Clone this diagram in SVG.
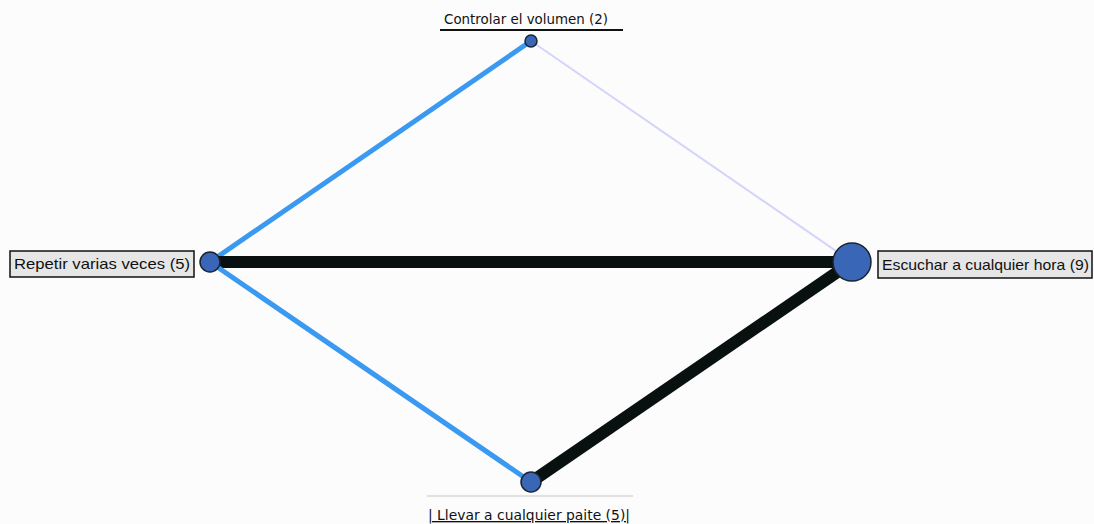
<svg xmlns="http://www.w3.org/2000/svg" width="1094" height="524" viewBox="0 0 1094 524">
<style>
.node{fill:#3a66b8;stroke:#1a2430;stroke-width:1.5}
.lbl{font-family:"DejaVu Sans","Liberation Sans",sans-serif;font-size:13.4px;fill:#111}
.blbl{font-family:"Liberation Sans",Arial,sans-serif;font-size:14.5px;fill:#111}
.box{fill:#e6e6e6;stroke:#111;stroke-width:1.5}
.blue{stroke:#3a99f0;stroke-width:5;fill:none}
.black{stroke:#081010;stroke-width:12;fill:none}
</style>
<rect width="1094" height="524" fill="#fcfcfc"/>
<g id="connectors">
<line class="blue" x1="531" y1="41" x2="210" y2="262"/>
<line x1="531" y1="41" x2="852" y2="262" stroke="#d4d4fa" stroke-width="2"/>
<line class="black" x1="210" y1="262" x2="852" y2="262"/>
<line class="blue" x1="210" y1="262" x2="531" y2="482"/>
<line class="black" x1="531" y1="482" x2="852" y2="262"/>
</g>
<g id="node-top">
<circle class="node" cx="531" cy="41" r="6"/>
<text class="lbl" x="526" y="24" text-anchor="middle">Controlar el volumen (2)</text>
<line x1="440" y1="30" x2="623" y2="30" stroke="#111" stroke-width="2"/>
</g>
<g id="node-left">
<circle class="node" cx="210" cy="262" r="10"/>
<rect class="box" x="10" y="251" width="184" height="26"/>
<text class="blbl" x="14" y="269" textLength="176" lengthAdjust="spacingAndGlyphs">Repetir varias veces (5)</text>
</g>
<g id="node-right">
<circle class="node" cx="852" cy="262" r="19"/>
<rect class="box" x="878" y="251" width="214" height="27"/>
<text class="blbl" x="882" y="270" textLength="207" lengthAdjust="spacingAndGlyphs">Escuchar a cualquier hora (9)</text>
</g>
<g id="node-bottom">
<circle class="node" cx="531" cy="482" r="10"/>
<line x1="427" y1="496" x2="633" y2="496" stroke="#d8d8d8" stroke-width="1.5"/>
<text class="lbl" x="428" y="520" textLength="202" lengthAdjust="spacingAndGlyphs" text-decoration="underline">| Llevar a cualquier paite (5)|</text>
</g>
</svg>
